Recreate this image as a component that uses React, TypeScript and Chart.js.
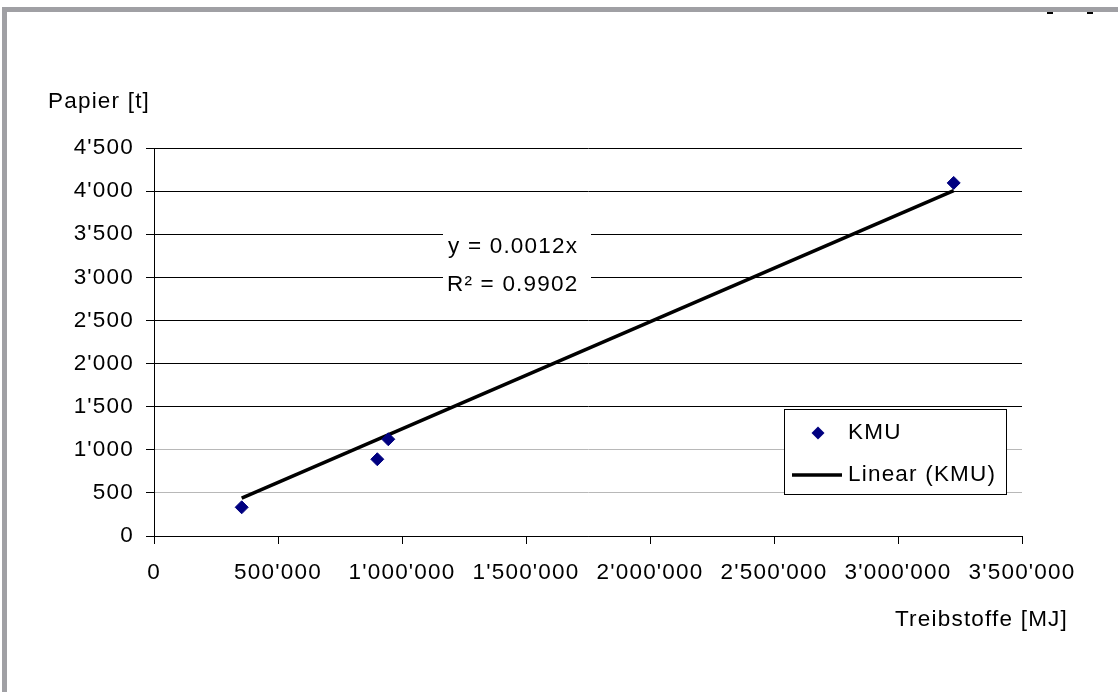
import React, { useEffect, useRef } from "react";
import { Chart, registerables } from "chart.js";

Chart.register(...registerables);

// Fuel consumption vs. paper consumption per company (KMU)
const fuelMJ = [353600, 900400, 944800, 3224600];
const paperT = [333, 890, 1122, 4095];
const rSquared = 0.9902;

const seriesLabel = "KMU";
const trendLabel = "Linear (KMU)";
const xTitle = "Treibstoffe [MJ]";
const yTitle = "Papier [t]";

const xMin = 0;
const xMax = 3500000;
const xStep = 500000;
const yMin = 0;
const yMax = 4500;
const yStep = 500;

const FAMILY = "'Liberation Sans', Arial, Helvetica, sans-serif";
const SIZE = 22.5;
const FONT = `${SIZE}px ${FAMILY}`;
const MARKER = "#000080";

// Swiss-style thousands separator: 1'500'000
const fmt = (v: number) =>
  Math.round(v)
    .toString()
    .replace(/\B(?=(\d{3})+(?!\d))/g, "'");

// Least-squares line through the origin
const sxy = fuelMJ.reduce((s, x, i) => s + x * paperT[i], 0);
const sxx = fuelMJ.reduce((s, x) => s + x * x, 0);
const slope = sxy / sxx;
const fitX = [Math.min(...fuelMJ), Math.max(...fuelMJ)];
const equation = `y = ${slope.toFixed(4)}x`;
const r2Text = `R² = ${rSquared.toFixed(4)}`;

const decor = {
  id: "decor",
  beforeLayout(chart: any) {
    chart.ctx.letterSpacing = "1.2px";
  },
  beforeDraw(chart: any) {
    chart.ctx.letterSpacing = "1.2px";
  },
  afterDraw(chart: any) {
    const ctx = chart.ctx as CanvasRenderingContext2D;
    ctx.save();

    // outer frame (top and left edges)
    ctx.fillStyle = "#a0a0a4";
    ctx.fillRect(2, 7, 1116, 5);
    ctx.fillRect(2, 7, 5, 685);
    ctx.fillStyle = "#000";
    ctx.fillRect(1047, 12, 6, 2);
    ctx.fillRect(1087, 12, 6, 2);

    ctx.font = FONT;
    ctx.textAlign = "left";
    ctx.textBaseline = "alphabetic";
    ctx.fillStyle = "#000";

    // axis titles
    ctx.fillText(yTitle, 48, 108);
    ctx.fillText(xTitle, 895, 626);

    // trendline equation
    ctx.fillStyle = "#fff";
    ctx.fillRect(443, 229, 148, 68);
    ctx.fillStyle = "#000";
    ctx.fillText(equation, 448, 253);
    ctx.fillText(r2Text, 447, 291);

    // legend
    const lx = 784;
    const ly = 409;
    ctx.fillStyle = "#fff";
    ctx.fillRect(lx, ly, 222, 85);
    ctx.strokeStyle = "#000";
    ctx.lineWidth = 1;
    ctx.strokeRect(lx + 0.5, ly + 0.5, 222, 85);

    ctx.fillStyle = MARKER;
    ctx.beginPath();
    ctx.moveTo(818, 426.5);
    ctx.lineTo(824.5, 433);
    ctx.lineTo(818, 439.5);
    ctx.lineTo(811.5, 433);
    ctx.closePath();
    ctx.fill();

    ctx.strokeStyle = "#000";
    ctx.lineWidth = 3.5;
    ctx.beginPath();
    ctx.moveTo(792, 475);
    ctx.lineTo(842, 475);
    ctx.stroke();

    ctx.fillStyle = "#000";
    ctx.fillText(seriesLabel, 848, 439);
    ctx.fillText(trendLabel, 848, 481);

    ctx.restore();
  },
};

export default function App() {
  const canvasRef = useRef<HTMLCanvasElement | null>(null);

  useEffect(() => {
    const canvas = canvasRef.current;
    if (!canvas) return;

    const chart = new Chart(canvas, {
      type: "scatter",
      data: {
        datasets: [
          {
            label: seriesLabel,
            data: fuelMJ.map((x, i) => ({ x, y: paperT[i] })),
            pointStyle: "rectRot",
            pointRadius: 6.5,
            pointBorderWidth: 1,
            backgroundColor: MARKER,
            borderColor: MARKER,
          },
          {
            label: trendLabel,
            data: fitX.map((x) => ({ x, y: slope * x })),
            showLine: true,
            borderColor: "#000",
            borderWidth: 3.5,
            pointRadius: 0,
          },
        ],
      },
      options: {
        responsive: false,
        animation: false,
        layout: { padding: { top: 148, right: 96, left: 0, bottom: 0 } },
        plugins: {
          legend: { display: false },
          tooltip: { enabled: false },
          title: { display: false },
        },
        scales: {
          x: {
            type: "linear",
            min: xMin,
            max: xMax,
            afterFit: (scale: any) => {
              scale.height = 156;
            },
            ticks: {
              stepSize: xStep,
              color: "#000",
              font: { family: FAMILY, size: SIZE },
              padding: 15,
              maxRotation: 0,
              callback: (v: any) => fmt(Number(v)),
            },
            grid: {
              drawOnChartArea: false,
              drawTicks: true,
              tickLength: 8,
              color: "#000",
              tickColor: "#000",
            },
            border: { display: true, color: "#000", width: 1 },
          },
          y: {
            type: "linear",
            min: yMin,
            max: yMax,
            afterFit: (scale: any) => {
              scale.width = 154;
            },
            ticks: {
              stepSize: yStep,
              color: "#000",
              font: { family: FAMILY, size: SIZE },
              padding: 12,
              callback: (v: any) => fmt(Number(v)),
            },
            grid: {
              drawTicks: true,
              tickLength: 8,
              tickColor: "#000",
              color: (c: any) => {
                const v = c.tick ? c.tick.value : null;
                return v === 500 || v === 1000 ? "#b8b8b8" : "#000";
              },
            },
            border: { display: true, color: "#000", width: 1 },
          },
        },
      },
      plugins: [decor],
    });

    return () => chart.destroy();
  }, []);

  return (
    <div
      style={{
        position: "fixed",
        left: 0,
        top: 0,
        width: 1118,
        height: 692,
        background: "#fff",
      }}
    >
      <canvas
        ref={canvasRef}
        width={1118}
        height={692}
        style={{ display: "block", width: 1118, height: 692 }}
      />
    </div>
  );
}
